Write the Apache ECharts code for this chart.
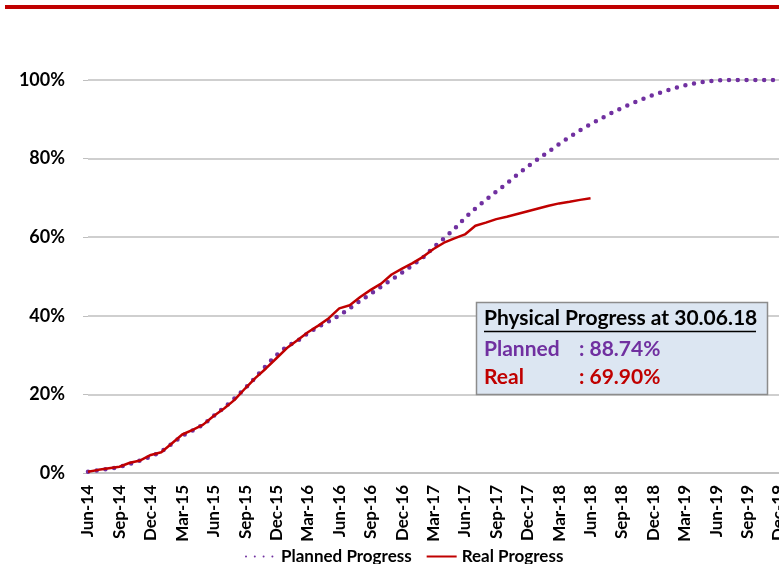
<!DOCTYPE html>
<html>
<head>
<meta charset="utf-8">
<script src="https://cdn.jsdelivr.net/npm/echarts@6/dist/echarts.min.js"></script>
<style>
  html, body { margin: 0; padding: 0; background: #fff; }
  #chart { width: 779px; height: 564px; }
</style>
</head>
<body>
<div id="chart"></div>
<script>
// months Jun-14 .. Dec-19
var months = ['Jun-14', 'Jul-14', 'Aug-14', 'Sep-14', 'Oct-14', 'Nov-14', 'Dec-14',
  'Jan-15', 'Feb-15', 'Mar-15', 'Apr-15', 'May-15', 'Jun-15', 'Jul-15', 'Aug-15', 'Sep-15', 'Oct-15', 'Nov-15', 'Dec-15',
  'Jan-16', 'Feb-16', 'Mar-16', 'Apr-16', 'May-16', 'Jun-16', 'Jul-16', 'Aug-16', 'Sep-16', 'Oct-16', 'Nov-16', 'Dec-16',
  'Jan-17', 'Feb-17', 'Mar-17', 'Apr-17', 'May-17', 'Jun-17', 'Jul-17', 'Aug-17', 'Sep-17', 'Oct-17', 'Nov-17', 'Dec-17',
  'Jan-18', 'Feb-18', 'Mar-18', 'Apr-18', 'May-18', 'Jun-18', 'Jul-18', 'Aug-18', 'Sep-18', 'Oct-18', 'Nov-18', 'Dec-18',
  'Jan-19', 'Feb-19', 'Mar-19', 'Apr-19', 'May-19', 'Jun-19', 'Jul-19', 'Aug-19', 'Sep-19', 'Oct-19', 'Nov-19', 'Dec-19'];

// percent
var planned = [0.3, 0.7, 1.1, 1.5, 2.3, 3.2, 4.2,
  5.4, 7.4, 9.5, 10.8, 12.3, 14.5, 16.6, 19.0, 21.5, 24.3, 27.3, 30.0,
  32.2, 33.6, 35.6, 37.2, 38.6, 40.1, 41.9, 43.8, 45.6, 47.4, 49.2, 51.0,
  52.9, 54.8, 57.4, 59.7, 62.1, 64.9, 67.3, 69.5, 71.6, 73.7, 75.9, 78.0,
  79.9, 81.8, 83.7, 85.5, 87.2, 88.74, 90.2, 91.6, 92.9, 94.1, 95.2, 96.2,
  97.1, 97.9, 98.6, 99.2, 99.6, 99.9, 100, 100, 100, 100, 100, 100];

var real = [0.3, 0.8, 1.2, 1.6, 2.6, 3.2, 4.6,
  5.3, 7.5, 9.8, 11.0, 12.3, 14.5, 16.4, 18.6, 21.5, 24.2, 26.6, 29.2,
  31.8, 33.8, 35.8, 37.5, 39.4, 41.9, 42.7, 44.8, 46.6, 48.2, 50.5, 52.0,
  53.4, 55.0, 57.0, 58.6, 59.7, 60.7, 62.9, 63.7, 64.6, 65.2, 65.9, 66.6,
  67.3, 68.0, 68.6, 69.0, 69.5, 69.9];

var boxTitle = 'Physical Progress at 30.06.18';
var boxLabels = ['Planned', 'Real'];
var boxValues = [': 88.74%', ': 69.90%'];

var FONT = 'Lato, "Open Sans", sans-serif';
var PURPLE = '#7030A0';
var RED = '#C00000';

var chart = echarts.init(document.getElementById('chart'));

var option = {
  animation: false,
  textStyle: { fontFamily: FONT },
  grid: { left: 88, right: 0, top: 80, bottom: 91, outerBoundsMode: 'none', containLabel: false },
  legend: {
    left: 240,
    top: 543,
    itemWidth: 30,
    itemHeight: 4,
    itemGap: 14,
    itemStyle: { opacity: 0 },
    textStyle: { fontFamily: FONT, fontWeight: 'bold', fontSize: 17, color: '#000' },
    data: ['Planned Progress', 'Real Progress']
  },
  xAxis: {
    type: 'category',
    data: months,
    boundaryGap: false,
    axisLine: { lineStyle: { color: '#BFBFBF', width: 1.5 } },
    axisTick: { show: false },
    axisLabel: {
      interval: 2,
      rotate: 90,
      margin: 12,
      fontFamily: FONT,
      fontWeight: 'bold',
      fontSize: 17,
      color: '#000'
    },
    splitLine: { show: false }
  },
  yAxis: {
    type: 'value',
    min: 0,
    max: 100,
    interval: 20,
    axisLine: { show: false },
    axisTick: { show: true, length: 5, lineStyle: { color: '#BFBFBF' } },
    axisLabel: {
      formatter: '{value}%',
      margin: 23,
      fontFamily: FONT,
      fontWeight: 'bold',
      fontSize: 18,
      color: '#000'
    },
    splitLine: { lineStyle: { color: '#BFBFBF', width: 1.5 } }
  },
  series: [
    {
      name: 'Planned Progress',
      type: 'line',
      data: planned,
      symbol: 'none',
      z: 2,
      lineStyle: { color: PURPLE, width: 4.5, type: [0, 8.8], cap: 'round' },
      itemStyle: { color: PURPLE }
    },
    {
      name: 'Real Progress',
      type: 'line',
      data: real,
      symbol: 'none',
      z: 3,
      lineStyle: { color: RED, width: 2.5 },
      itemStyle: { color: RED }
    }
  ],
  graphic: [
    {
      type: 'rect',
      shape: { x: 5, y: 5, width: 774, height: 4 },
      style: { fill: RED },
      silent: true
    },
    // info box, drawn above the grid lines
    {
      type: 'rect', z: 100,
      shape: { x: 476.5, y: 302.5, width: 291, height: 92 },
      style: { fill: '#DCE6F2', stroke: '#8C8C8C', lineWidth: 1.5 }
    },
    {
      type: 'text', z: 101,
      x: 484, y: 318,
      style: { text: boxTitle, fill: '#000', font: 'bold 21px ' + FONT, verticalAlign: 'middle' }
    },
    {
      type: 'line', z: 101,
      shape: { x1: 484, y1: 331.5, x2: 756, y2: 331.5 },
      style: { stroke: '#000', lineWidth: 1.5 }
    },
    {
      type: 'text', z: 101, x: 484, y: 349,
      style: { text: boxLabels[0], fill: PURPLE, font: 'bold 21px ' + FONT, verticalAlign: 'middle' }
    },
    {
      type: 'text', z: 101, x: 579, y: 349,
      style: { text: boxValues[0], fill: PURPLE, font: 'bold 21px ' + FONT, verticalAlign: 'middle' }
    },
    {
      type: 'text', z: 101, x: 484, y: 377,
      style: { text: boxLabels[1], fill: RED, font: 'bold 21px ' + FONT, verticalAlign: 'middle' }
    },
    {
      type: 'text', z: 101, x: 579, y: 377,
      style: { text: boxValues[1], fill: RED, font: 'bold 21px ' + FONT, verticalAlign: 'middle' }
    }
  ]
};

chart.setOption(option);
</script>
</body>
</html>
